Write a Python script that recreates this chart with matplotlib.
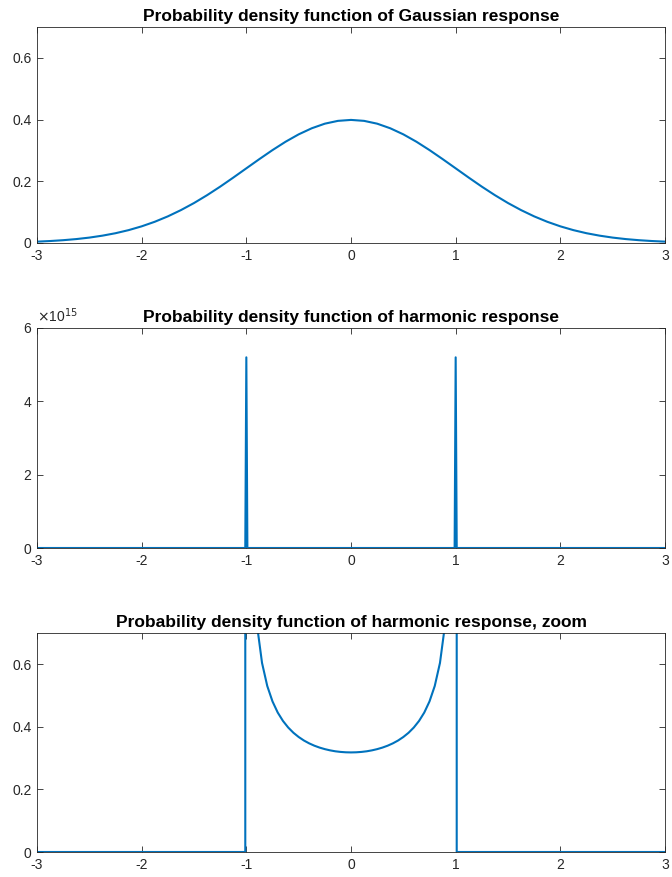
import matplotlib
matplotlib.use("Agg")
import matplotlib.pyplot as plt

plt.rcParams['font.family'] = ['Liberation Sans', 'DejaVu Sans']
plt.rcParams['axes.unicode_minus'] = False

# Gaussian response pdf
gauss_x = [-3.0, -2.875, -2.75, -2.625, -2.5, -2.375, -2.25, -2.125, -2.0, -1.875,
           -1.75, -1.625, -1.5, -1.375, -1.25, -1.125, -1.0, -0.875, -0.75, -0.625,
           -0.5, -0.375, -0.25, -0.125, 0.0, 0.125, 0.25, 0.375, 0.5, 0.625, 0.75,
           0.875, 1.0, 1.125, 1.25, 1.375, 1.5, 1.625, 1.75, 1.875, 2.0, 2.125,
           2.25, 2.375, 2.5, 2.625, 2.75, 2.875, 3.0]
gauss_y = [0.0044, 0.0064, 0.0091, 0.0127, 0.0175, 0.0238, 0.0317, 0.0417, 0.0540, 0.0688,
           0.0863, 0.1066, 0.1295, 0.1550, 0.1826, 0.2119, 0.2420, 0.2720, 0.3011, 0.3282,
           0.3521, 0.3718, 0.3867, 0.3958, 0.3989, 0.3958, 0.3867, 0.3718, 0.3521, 0.3282,
           0.3011, 0.2720, 0.2420, 0.2119, 0.1826, 0.1550, 0.1295, 0.1066, 0.0863, 0.0688,
           0.0540, 0.0417, 0.0317, 0.0238, 0.0175, 0.0127, 0.0091, 0.0064, 0.0044]

# Harmonic response pdf
harm_x = [-3.0, -1.01, -1.0, -0.99, -0.95, -0.9, -0.85, -0.8, -0.75, -0.7, -0.65,
          -0.6, -0.55, -0.5, -0.45, -0.4, -0.35, -0.3, -0.25, -0.2, -0.15, -0.1,
          -0.05, 0.0, 0.05, 0.1, 0.15, 0.2, 0.25, 0.3, 0.35, 0.4, 0.45, 0.5, 0.55,
          0.6, 0.65, 0.7, 0.75, 0.8, 0.85, 0.9, 0.95, 0.99, 1.0, 1.01, 3.0]
harm_y = [0.0, 0.0, 5.2e15, 2.2564, 1.0195, 0.7302, 0.6043, 0.5305, 0.4813, 0.4457, 0.4189,
          0.3979, 0.3811, 0.3676, 0.3564, 0.3473, 0.3398, 0.3337, 0.3288, 0.3249, 0.3219, 0.3199,
          0.3187, 0.3183, 0.3187, 0.3199, 0.3219, 0.3249, 0.3288, 0.3337, 0.3398, 0.3473, 0.3564,
          0.3676, 0.3811, 0.3979, 0.4189, 0.4457, 0.4813, 0.5305, 0.6043, 0.7302, 1.0195, 2.2564,
          5.2e15, 0.0, 0.0]

titles = ["Probability density function of Gaussian response",
          "Probability density function of harmonic response",
          "Probability density function of harmonic response, zoom"]
x_ticks = [-3, -2, -1, 0, 1, 2, 3]
y_ticks_small = [0, 0.2, 0.4, 0.6]
y_labels_small = ["0", "0.2", "0.4", "0.6"]
y_ticks_big = [0, 2e15, 4e15, 6e15]
y_labels_big = ["0", "2", "4", "6"]

W, H = 672, 877
fig = plt.figure(figsize=(W / 100, H / 100), dpi=100)
line_color = '#0072BD'
ax_color = '#262626'

boxes = [(27, 243), (328, 548), (633, 852)]
left_px, right_px = 37, 665

axes = []
for (top, bot) in boxes:
    ax = fig.add_axes([left_px / W, 1 - bot / H, (right_px - left_px) / W, (bot - top) / H])
    axes.append(ax)

axes[0].plot(gauss_x, gauss_y, color=line_color, lw=1.5)
axes[1].plot(harm_x, harm_y, color=line_color, lw=1.5)
axes[2].plot(harm_x, harm_y, color=line_color, lw=1.5)

for i, ax in enumerate(axes):
    ax.set_xlim(-3, 3)
    ax.set_xticks(x_ticks)
    ax.set_xticklabels([str(t) for t in x_ticks])
    if i == 1:
        ax.set_ylim(0, 6e15)
        ax.set_yticks(y_ticks_big)
        ax.set_yticklabels(y_labels_big)
    else:
        ax.set_ylim(0, 0.7)
        ax.set_yticks(y_ticks_small)
        ax.set_yticklabels(y_labels_small)
    ax.set_title(titles[i], fontsize=12.5, fontweight='bold', color='black', pad=4)
    ax.tick_params(direction='in', top=True, right=True, length=4, width=0.6,
                   colors=ax_color, labelsize=10, pad=4)
    for s in ax.spines.values():
        s.set_color(ax_color)
        s.set_linewidth(0.6)

axes[1].text(0.0, 1.015, r"$\times$10$^{15}$", transform=axes[1].transAxes,
             fontsize=10, color=ax_color, ha='left', va='bottom')

fig.savefig("out.png", dpi=100)
